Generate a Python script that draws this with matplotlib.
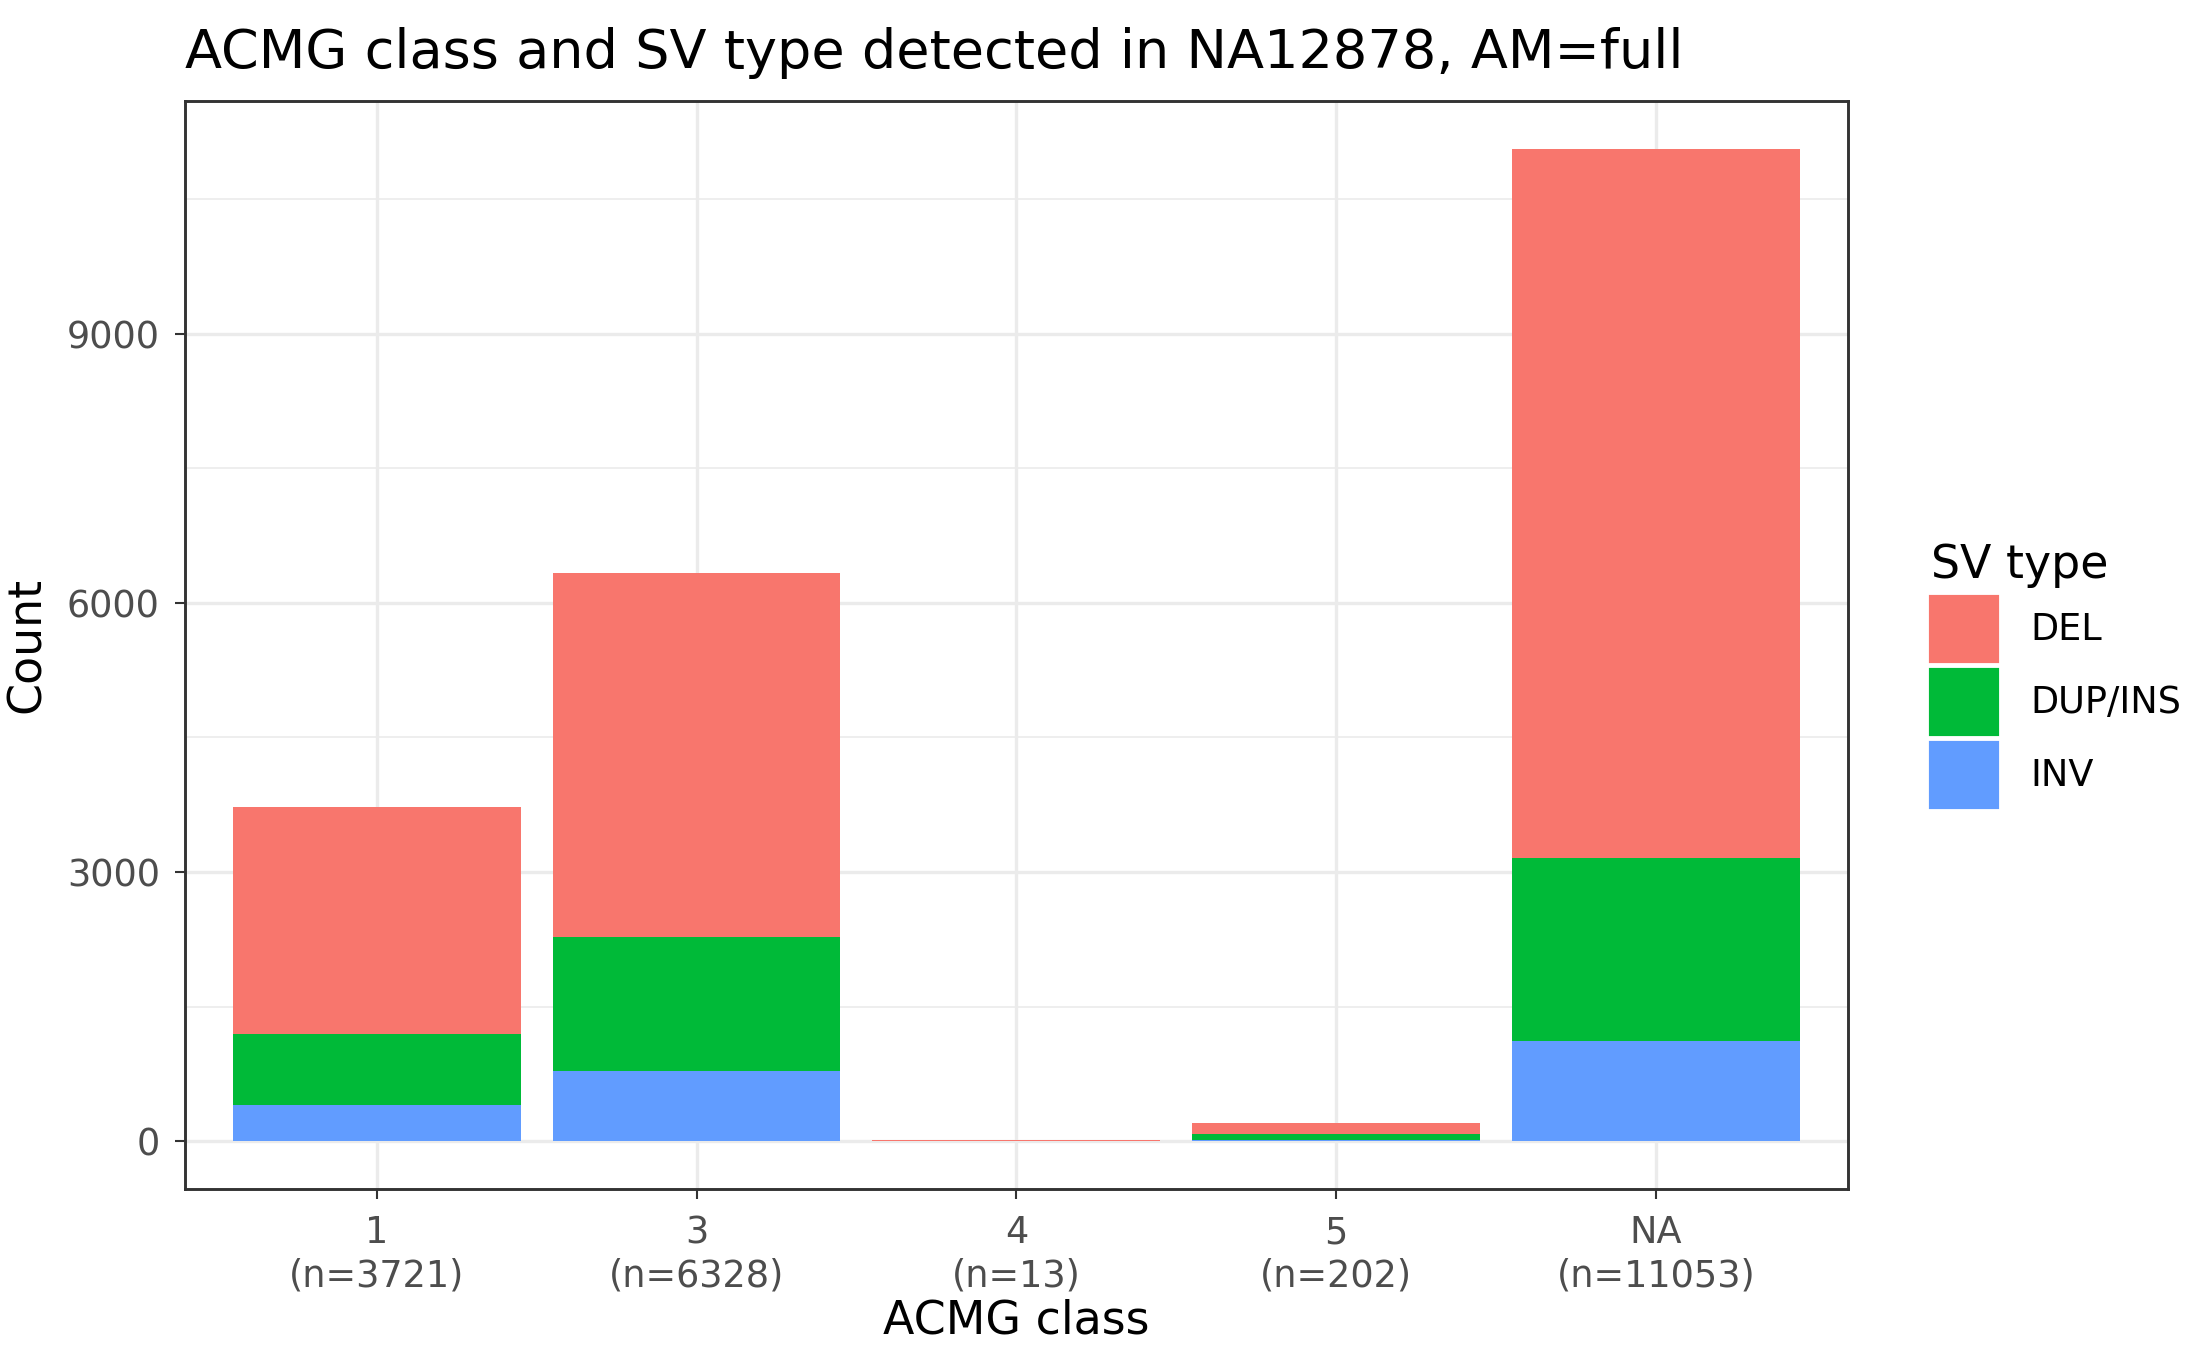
import matplotlib
matplotlib.use("Agg")
import matplotlib.pyplot as plt
from matplotlib.patches import Patch
import numpy as np

classes = ["1", "3", "4", "5", "NA"]
totals = [3721, 6328, 13, 202, 11053]
inv = [409, 786, 1, 20, 1116]
dup = [786, 1494, 2, 60, 2044]
dele = [2526, 4048, 10, 122, 7893]
colors = {"DEL": "#F8766D", "DUP/INS": "#00BA38", "INV": "#619CFF"}

fig = plt.figure(figsize=(7.29, 4.5), dpi=300)
ax = fig.add_axes([0.0845, 0.119, 0.7605, 0.806])
x = np.arange(len(classes))
inv_a, dup_a, del_a = map(np.array, (inv, dup, dele))
ax.bar(x, inv_a, 0.9, color=colors["INV"], zorder=3)
ax.bar(x, dup_a, 0.9, bottom=inv_a, color=colors["DUP/INS"], zorder=3)
ax.bar(x, del_a, 0.9, bottom=inv_a + dup_a, color=colors["DEL"], zorder=3)

ax.set_xlim(-0.6, 4.6)
ax.set_ylim(-535, 11588)
ax.set_yticks([0, 3000, 6000, 9000])
ax.set_yticks([1500, 4500, 7500, 10500], minor=True)
ax.set_xticks(x)
ax.set_xticklabels([f"{c}\n(n={t})" for c, t in zip(classes, totals)])
ax.grid(True, which="major", color="#EBEBEB", lw=0.8, zorder=0)
ax.grid(True, which="minor", axis="y", color="#EBEBEB", lw=0.4, zorder=0)
ax.tick_params(which="minor", length=0)
ax.tick_params(which="major", length=2.5, width=0.5, color="#333333", labelsize=8.8, labelcolor="#4D4D4D")
for s in ax.spines.values():
    s.set_color("#333333"); s.set_linewidth(0.7)
ax.set_xlabel("ACMG class", fontsize=11, labelpad=1)
ax.set_ylabel("Count", fontsize=11)
ax.set_title("ACMG class and SV type detected in NA12878, AM=full", fontsize=13, loc="left", x=0.0, pad=8)

handles = [Patch(color=colors[k], label=k) for k in ["DEL", "DUP/INS", "INV"]]
leg = fig.legend(handles=handles, loc="center left", bbox_to_anchor=(0.868, 0.5), frameon=False,
                 title="SV type", fontsize=8.8, title_fontsize=11, handlelength=1.8, handleheight=2.3,
                 labelspacing=0.25, handletextpad=0.9)
leg._legend_box.align = "left"
fig.savefig("out.png", dpi=300)
